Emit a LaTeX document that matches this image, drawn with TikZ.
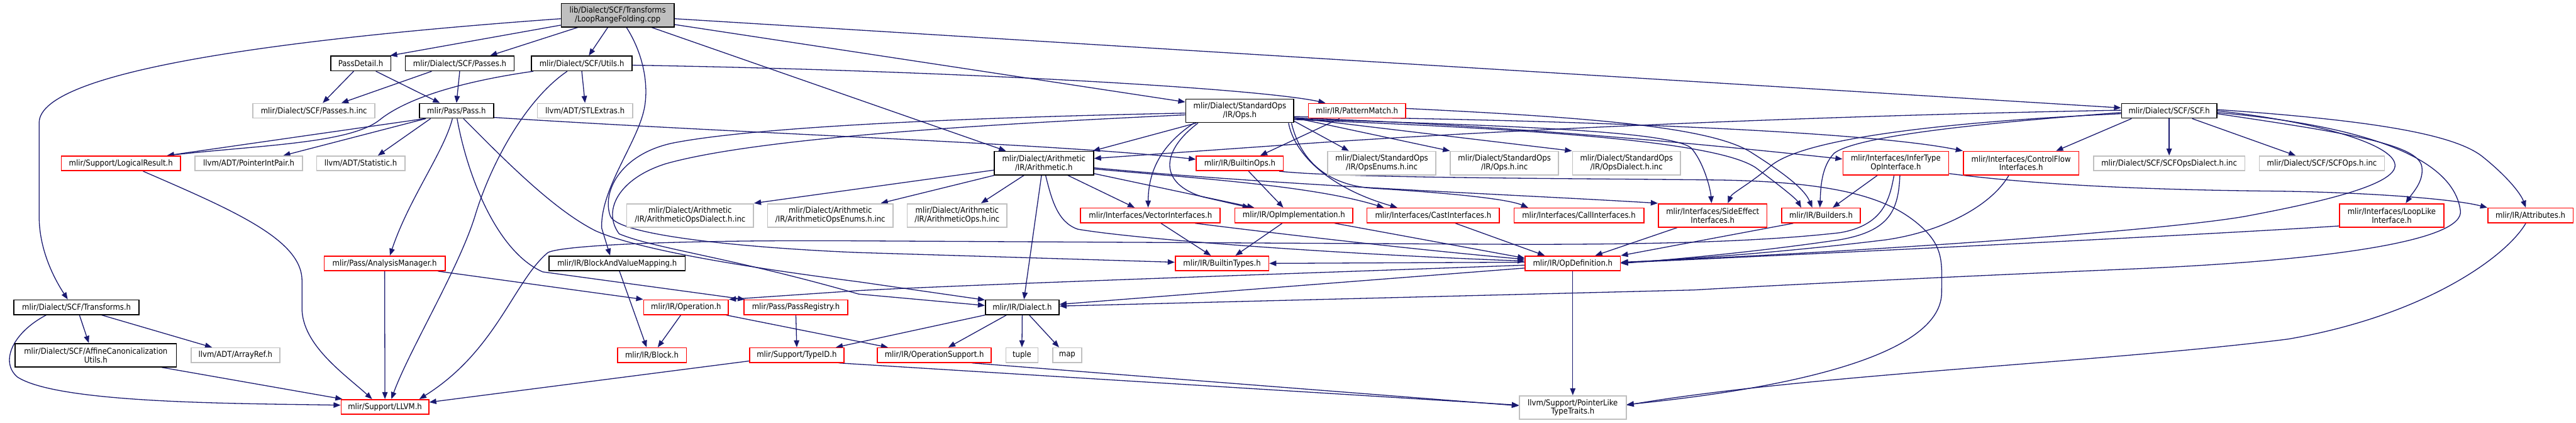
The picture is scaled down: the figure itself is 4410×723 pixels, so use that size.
\documentclass[tikz,border=0pt]{standalone}
\usepackage{fontspec}
\setmainfont{DejaVu Sans Condensed}
\usetikzlibrary{arrows.meta,calc,backgrounds}
\definecolor{edgec}{HTML}{191970}
\definecolor{grayc}{HTML}{C0C0C0}
\definecolor{mainfill}{HTML}{BFBFBF}
\begin{document}
\begin{tikzpicture}[x=0.5pt,y=-0.5pt,
 box/.style={rectangle, inner sep=0pt, font=\fontsize{7}{7.5}\selectfont, align=center, minimum height=12.5pt, line width=0.9pt, fill=white},
 two/.style={minimum height=20pt},
 bw/.style={minimum width=#1*0.5pt},
 nblack/.style={box, draw=black},
 nred/.style={box, draw=red},
 ngray/.style={box, draw=grayc},
 nmain/.style={box, draw=black, fill=mainfill},
 edge/.style={draw=edgec, line width=0.7pt, -{Triangle[length=6pt,width=4.6pt]}}]
\useasboundingbox (0,0) rectangle (4410,723);
% nodes
\node[nmain, two, bw=193] (M) at (1057.5,26) {lib/Dialect/SCF/Transforms\\/LoopRangeFolding.cpp};
\node[nblack, bw=103] (PassDetail) at (617.5,108.5) {PassDetail.h};
\node[nblack, bw=186] (Passes) at (787,108.5) {mlir/Dialect/SCF/Passes.h};
\node[nblack, bw=172] (Utils) at (996,108.5) {mlir/Dialect/SCF/Utils.h};
\node[ngray, bw=209] (PassesInc) at (537.5,189.5) {mlir/Dialect/SCF/Passes.h.inc};
\node[nblack, bw=127] (Pass) at (781.5,189.5) {mlir/Pass/Pass.h};
\node[ngray, bw=163] (STL) at (1001.5,189.5) {llvm/ADT/STLExtras.h};
\node[nblack, two, bw=185] (Ops) at (2122.5,189.5) {mlir/Dialect/StandardOps\\/IR/Ops.h};
\node[nred, bw=166] (PM) at (2323,189.5) {mlir/IR/PatternMatch.h};
\node[nblack, bw=163] (SCF) at (3713.5,189.5) {mlir/Dialect/SCF/SCF.h};
\node[nred, bw=204] (LR) at (207,279.5) {mlir/Support/LogicalResult.h};
\node[ngray, bw=184] (PIP) at (426,279.5) {llvm/ADT/PointerIntPair.h};
\node[ngray, bw=151] (Stat) at (617.5,279.5) {llvm/ADT/Statistic.h};
\node[nblack, two, bw=170] (Arith) at (1787,279) {mlir/Dialect/Arithmetic\\/IR/Arithmetic.h};
\node[nred, bw=149] (BOps) at (2122.5,279.5) {mlir/IR/BuiltinOps.h};
\node[ngray, two, bw=185] (OEnum) at (2365.5,279) {mlir/Dialect/StandardOps\\/IR/OpsEnums.h.inc};
\node[ngray, two, bw=185] (OInc) at (2575.5,279) {mlir/Dialect/StandardOps\\/IR/Ops.h.inc};
\node[ngray, two, bw=185] (ODial) at (2784.5,279) {mlir/Dialect/StandardOps\\/IR/OpsDialect.h.inc};
\node[nred, two, bw=181] (Infer) at (3245.5,279) {mlir/Interfaces/InferType\\OpInterface.h};
\node[nred, two, bw=198] (CF) at (3460,279) {mlir/Interfaces/ControlFlow\\Interfaces.h};
\node[ngray, bw=259] (SCFD) at (3713.5,279.5) {mlir/Dialect/SCF/SCFOpsDialect.h.inc};
\node[ngray, bw=214] (SCFO) at (3975,279.5) {mlir/Dialect/SCF/SCFOps.h.inc};
\node[ngray, two, bw=217] (AD) at (1181.5,368.5) {mlir/Dialect/Arithmetic\\/IR/ArithmeticOpsDialect.h.inc};
\node[ngray, two, bw=215] (AE) at (1421.5,368.5) {mlir/Dialect/Arithmetic\\/IR/ArithmeticOpsEnums.h.inc};
\node[ngray, two, bw=171] (AO) at (1638.5,368.5) {mlir/Dialect/Arithmetic\\/IR/ArithmeticOps.h.inc};
\node[nred, bw=239] (VI) at (1969.5,368.5) {mlir/Interfaces/VectorInterfaces.h};
\node[nred, bw=202] (OI) at (2215,368.5) {mlir/IR/OpImplementation.h};
\node[nred, bw=227] (Cast) at (2453.5,368.5) {mlir/Interfaces/CastInterfaces.h};
\node[nred, bw=222] (Call) at (2703,368.5) {mlir/Interfaces/CallInterfaces.h};
\node[nred, two, bw=186] (SE) at (2932,368.5) {mlir/Interfaces/SideEffect\\Interfaces.h};
\node[nred, bw=135] (Bld) at (3117.5,368.5) {mlir/IR/Builders.h};
\node[nred, two, bw=179] (LL) at (4094.5,368.5) {mlir/Interfaces/LoopLike\\Interface.h};
\node[nred, bw=146] (Attr) at (4332,368.5) {mlir/IR/Attributes.h};
\node[nred, bw=207] (AM) at (658.5,450.5) {mlir/Pass/AnalysisManager.h};
\node[nblack, bw=233] (BVM) at (1056.5,450.5) {mlir/IR/BlockAndValueMapping.h};
\node[nred, bw=160] (BT) at (2092,450.5) {mlir/IR/BuiltinTypes.h};
\node[nred, bw=163] (OD) at (2692.5,450.5) {mlir/IR/OpDefinition.h};
\node[nblack, bw=214] (Tr) at (131,525.5) {mlir/Dialect/SCF/Transforms.h};
\node[nred, bw=145] (Op) at (1174.5,525.5) {mlir/IR/Operation.h};
\node[nred, bw=177] (PR) at (1362.5,525.5) {mlir/Pass/PassRegistry.h};
\node[nblack, bw=126] (Dia) at (1750,525.5) {mlir/IR/Dialect.h};
\node[nblack, two, bw=276] (ACU) at (164,607.5) {mlir/Dialect/SCF/AffineCanonicalization\\Utils.h};
\node[ngray, bw=152] (AR) at (403,607.5) {llvm/ADT/ArrayRef.h};
\node[nred, bw=118] (Blk) at (1116,607.5) {mlir/IR/Block.h};
\node[nred, bw=162] (TID) at (1364,607.5) {mlir/Support/TypeID.h};
\node[nred, bw=195] (OS) at (1599.5,607.5) {mlir/IR/OperationSupport.h};
\node[ngray, bw=55] (tup) at (1749.5,607.5) {tuple};
\node[ngray, bw=50] (mapn) at (1827,607.5) {map};
\node[nred, bw=150] (LLVM) at (659,696) {mlir/Support/LLVM.h};
\node[ngray, two, bw=183] (PLTT) at (2692.5,697) {llvm/Support/PointerLike\\TypeTraits.h};
\begin{pgfonlayer}{background}
\fill[white] (0,0) rectangle (4410,723);
% main node
\draw[edge] ($(M.west)+(0,6)$) .. controls (500,65) and (67,120) .. (67,210) -- (67,370) .. controls (67,430) and (95,480) .. ($(Tr.north)+(-15,0)$);
\draw[edge] ($(M.west)+(0,17)$) -- ($(PassDetail.north east)+(-2,0)$);
\draw[edge] ($(M.south west)+(29,0)$) -- ($(Passes.north)+(52,0)$);
\draw[edge] ($(M.south)+(-17,0)$) -- ($(Utils.north)+(12,0)$);
\draw[edge] ($(M.south)+(15,0)$) .. controls (1100,90) and (1110,140) .. (1104,180) .. controls (1095,240) and (1028,320) .. (1030,390) -- ($(BVM.north)+(-12,0)$);
\draw[edge] ($(M.south)+(58,0)$) -- ($(Arith.north)+(-65,0)$);
\draw[edge] ($(M.east)+(0,16)$) -- ($(Ops.west)+(0,-15)$);
\draw[edge] ($(M.east)+(0,6)$) -- ($(SCF.west)+(0,-5)$);
% PassDetail, Passes, Utils
\draw[edge] ($(PassDetail.south)+(-12,0)$) -- ($(PassesInc.north)+(15,0)$);
\draw[edge] ($(PassDetail.south)+(26,0)$) -- ($(Pass.north west)+(36,0)$);
\draw[edge] ($(Passes.south west)+(46,0)$) -- ($(PassesInc.north)+(47,0)$);
\draw[edge] (Passes.south) -- (Pass.north);
\draw[edge] (Utils.south) -- (STL.north);
\draw[edge] ($(Utils.south west)+(4,0)$) .. controls (800,138) and (700,165) .. (650,205) .. controls (600,245) and (450,248) .. ($(LR.north east)+(-24,0)$);
\draw[edge] ($(Utils.south west)+(62,0)$) .. controls (900,170) and (840,280) .. (813,370) .. controls (785,460) and (700,600) .. ($(LLVM.north)+(11,0)$);
\draw[edge] ($(Utils.east)+(0,3)$) .. controls (1600,120) and (2150,150) .. ($(PM.north west)+(30,0)$);
% Pass.h
\draw[edge] ($(Pass.south west)+(10,0)$) -- ($(LR.north east)+(-24,0)$);
\draw[edge] ($(Pass.south west)+(12,0)$) -- ($(PIP.north east)+(-34,0)$);
\draw[edge] ($(Pass.south west)+(20,0)$) -- ($(Stat.north east)+(-47,0)$);
\draw[edge] ($(Pass.south)+(-7,0)$) .. controls (760,260) and (700,340) .. ($(AM.north)+(9,0)$);
\draw[edge] ($(Pass.south)+(1,0)$) .. controls (800,300) and (850,430) .. (929,465) -- ($(PR.north west)+(2,0)$);
\draw[edge] ($(Pass.south)+(12,0)$) .. controls (870,280) and (950,360) .. (1020,395) .. controls (1100,430) and (1300,460) .. (1470,482) -- ($(Dia.north west)+(0,1)$);
\draw[edge] ($(Pass.south east)+(0,-2)$) .. controls (1300,230) and (1800,245) .. ($(BOps.west)+(0,-7)$);
% lower left
\draw[edge] ($(LR.south)+(38,0)$) .. controls (400,360) and (517,410) .. (517,480) -- (517,527) .. controls (517,590) and (590,640) .. ($(LLVM.north)+(-22,0)$);
\draw[edge] (AM.south) -- (LLVM.north);
\draw[edge] ($(AM.south east)+(-13,0)$) -- (Op.north west);
\draw[edge] ($(Tr.south west)+(56,0)$) .. controls (20,570) and (0,620) .. (30,645) .. controls (100,690) and (400,690) .. ($(LLVM.west)+(0,-3)$);
\draw[edge] ($(Tr.south)+(5,0)$) -- ($(ACU.north)+(-12,0)$);
\draw[edge] ($(Tr.south)+(43,0)$) -- ($(AR.north)+(-40,0)$);
\draw[edge] ($(ACU.south east)+(-26,0)$) -- ($(LLVM.north west)+(3,0)$);
\draw[edge] ($(BVM.south)+(4,0)$) -- ($(Blk.north)+(-9,0)$);
\draw[edge] ($(Op.south)+(-9,0)$) -- ($(Blk.north)+(10,0)$);
\draw[edge] ($(Op.south east)+(-5,0)$) -- ($(OS.north west)+(19,0)$);
\draw[edge] (PR.south) -- (TID.north);
\draw[edge] ($(TID.west)+(0,10)$) -- ($(LLVM.east)+(0,-8)$);
\draw[edge] ($(TID.south east)+(-10,0)$) -- ($(PLTT.west)+(0,-4)$);
\draw[edge] ($(OS.south east)+(-34,0)$) -- ($(PLTT.west)+(0,-3)$);
\draw[edge] (Dia.south west) -- ($(TID.north east)+(-15,0)$);
\draw[edge] ($(Dia.south west)+(37,0)$) -- ($(OS.north)+(24,0)$);
\draw[edge] (Dia.south) -- (tup.north);
\draw[edge] ($(Dia.south)+(12,0)$) -- ($(mapn.north)+(-14,0)$);
% Arithmetic.h
\draw[edge] ($(Arith.west)+(0,12)$) -- (AD.north east);
\draw[edge] ($(Arith.south west)+(1,0)$) -- ($(AE.north east)+(-22,0)$);
\draw[edge] ($(Arith.south)+(-34,0)$) -- ($(AO.north)+(41,0)$);
\draw[edge] ($(Arith.south)+(-4,0)$) -- ($(Dia.north)+(3,0)$);
\draw[edge] ($(Arith.south)+(3,0)$) .. controls (1800,340) and (1810,380) .. (1845,392) .. controls (1950,410) and (2300,435) .. ($(OD.west)+(0,-4)$);
\draw[edge] ($(Arith.south)+(41,0)$) -- ($(VI.north)+(-27,0)$);
\draw[edge] ($(Arith.south east)+(0,-3)$) -- ($(OI.north west)+(34,0)$);
\draw[edge] ($(Arith.east)+(0,10)$) .. controls (2050,305) and (2250,318) .. ($(Cast.north west)+(30,0)$);
\draw[edge] ($(Arith.east)+(0,8)$) .. controls (2200,318) and (2600,333) .. (SE.north west);
% BuiltinOps.h
\draw[edge] ($(BOps.south east)+(-8,0)$) .. controls (2300,305) and (2700,305) .. (2950,308) .. controls (3150,312) and (3230,340) .. (3280,380) .. controls (3330,420) and (3324,450) .. (3324,500) .. controls (3324,600) and (3100,660) .. ($(PLTT.east)+(0,-5)$);
\draw[edge] ($(BOps.south)+(15,0)$) -- ($(OI.north)+(-18,0)$);
% StandardOps Ops.h
\draw[edge] ($(Ops.south west)+(19,0)$) -- ($(Arith.north east)+(-2,0)$);
\draw[edge] ($(Ops.south west)+(15,0)$) .. controls (2000,240) and (1966,280) .. ($(VI.north)+(-4,0)$);
\draw[edge] ($(Ops.south west)+(22,0)$) .. controls (1985,260) and (1985,315) .. (2060,337) -- ($(OI.north west)+(26,0)$);
\draw[edge] ($(Ops.south east)+(0,-3)$) -- ($(OEnum.north west)+(37,0)$);
\draw[edge] ($(Ops.east)+(0,12)$) -- (OInc.north west);
\draw[edge] ($(Ops.east)+(0,12)$) -- (ODial.north west);
\draw[edge] ($(Ops.east)+(0,14)$) .. controls (2600,215) and (2860,225) .. (2895,253) .. controls (2915,275) and (2928,320) .. ($(SE.north)+(-2,0)$);
\draw[edge] ($(Ops.east)+(0,10)$) .. controls (2700,205) and (3200,225) .. (CF.north west);
\draw[edge] ($(Ops.east)+(0,12)$) .. controls (2600,215) and (2950,250) .. ($(Infer.west)+(0,-7)$);
\draw[edge] ($(Ops.east)+(0,15)$) .. controls (2600,220) and (2950,240) .. (3010,290) .. controls (3050,320) and (3075,340) .. ($(Bld.north)+(-34,0)$);
\draw[edge] ($(Ops.south east)+(-10,0)$) .. controls (2215,260) and (2270,320) .. ($(Cast.north west)+(53,0)$);
\draw[edge] ($(Ops.south east)+(-5,0)$) .. controls (2230,290) and (2290,318) .. (2350,322) .. controls (2480,330) and (2580,340) .. ($(Call.north west)+(25,0)$);
\draw[edge] ($(Ops.west)+(0,4)$) .. controls (1700,200) and (1300,215) .. (1150,245) .. controls (1060,265) and (1030,330) .. (1045,370) .. controls (1060,405) and (1300,425) .. (1470,432) -- ($(BT.west)+(0,-2)$);
\draw[edge] ($(Ops.west)+(0,7)$) .. controls (1700,212) and (1300,235) .. (1140,280) .. controls (1060,305) and (1030,360) .. (1060,400) .. controls (1120,425) and (1250,440) .. (1470,503) -- ($(Dia.west)+(0,-3)$);
% interfaces to OpDefinition / BuiltinTypes
\draw[edge] ($(VI.south east)+(-44,0)$) .. controls (2150,395) and (2400,425) .. ($(OD.west)+(0,-7)$);
\draw[edge] ($(VI.south)+(18,0)$) -- ($(BT.north)+(-19,0)$);
\draw[edge] ($(OI.south west)+(82,0)$) -- ($(BT.north)+(23,0)$);
\draw[edge] ($(OI.south east)+(-32,0)$) -- ($(OD.west)+(0,-9)$);
\draw[edge] ($(Cast.south)+(38,0)$) -- ($(OD.north)+(-48,0)$);
\draw[edge] ($(SE.south west)+(33,0)$) -- ($(OD.north east)+(-44,0)$);
\draw[edge] ($(Bld.south west)+(21,0)$) -- (OD.north east);
\draw[edge] ($(OD.west)+(0,-2)$) -- (BT.east);
% OpDefinition
\draw[edge] ($(OD.west)+(0,3)$) .. controls (2300,465) and (1700,485) .. (1470,497) -- (Op.north east);
\draw[edge] ($(OD.west)+(0,8)$) -- ($(Dia.east)+(0,-5)$);
\draw[edge] (OD.south) -- (PLTT.north);
% InferType
\draw[edge] ($(Infer.south)+(-3,0)$) .. controls (3235,340) and (3225,385) .. (3150,398) .. controls (3000,415) and (2800,418) .. (2600,418) -- (1470,412) .. controls (1150,410) and (960,420) .. (938,432) .. controls (880,480) and (850,600) .. ($(LLVM.north east)+(-17,0)$);
\draw[edge] ($(Infer.south)+(7,0)$) .. controls (3250,360) and (3235,395) .. (3150,410) .. controls (3000,432) and (2850,445) .. (OD.east);
\draw[edge] ($(Infer.south west)+(60,0)$) -- ($(Bld.north)+(20,0)$);
\draw[edge] ($(Infer.south east)+(0,-3)$) .. controls (3500,318) and (3700,325) .. (3900,327) .. controls (4050,329) and (4200,340) .. (Attr.north west);
\draw[edge] ($(CF.south)+(-21,0)$) .. controls (3410,350) and (3330,395) .. (3230,410) .. controls (3050,432) and (2900,442) .. ($(OD.east)+(0,-1)$);
\draw[edge] ($(LL.west)+(0,18)$) .. controls (3800,400) and (3200,430) .. ($(OD.east)+(0,-1)$);
\draw[edge] ($(Attr.south)+(-8,0)$) .. controls (4290,440) and (4150,540) .. (3917,580) .. controls (3600,620) and (3100,640) .. ($(PLTT.east)+(0,-4)$);
% PatternMatch
\draw[edge] ($(PM.south west)+(54,0)$) -- ($(BOps.north)+(35,0)$);
\draw[edge] ($(PM.east)+(0,-4)$) .. controls (2700,200) and (2930,215) .. (3000,262) .. controls (3060,300) and (3090,325) .. ($(Bld.north)+(-15,0)$);
% SCF.h
\draw[edge] ($(SCF.west)+(0,5)$) .. controls (3300,210) and (3080,240) .. (3030,285) .. controls (2995,315) and (2965,330) .. ($(SE.north)+(26,0)$);
\draw[edge] ($(SCF.west)+(0,3)$) .. controls (3400,210) and (3180,232) .. (3140,262) .. controls (3118,285) and (3117,320) .. ($(Bld.north)+(-2,0)$);
\draw[edge] ($(SCF.west)+(0,-1)$) .. controls (3000,200) and (2450,230) .. (2200,248) -- ($(Arith.east)+(0,-8)$);
\draw[edge] ($(SCF.south west)+(18,0)$) -- ($(CF.north east)+(-40,0)$);
\draw[edge] (SCF.south) -- (SCFD.north);
\draw[edge] ($(SCF.south east)+(-43,0)$) -- ($(SCFO.north west)+(63,0)$);
\draw[edge] ($(SCF.east)+(0,5)$) .. controls (4000,225) and (4140,245) .. (4146,285) .. controls (4150,310) and (4130,330) .. ($(LL.north)+(24,0)$);
\draw[edge] ($(SCF.east)+(0,-2)$) .. controls (4050,205) and (4200,228) .. (4250,268) .. controls (4290,300) and (4315,330) .. ($(Attr.north)+(-8,0)$);
\draw[edge] ($(SCF.east)+(0,3)$) .. controls (4050,215) and (4200,270) .. (4212,360) .. controls (4220,410) and (4000,445) .. (3650,460) .. controls (3300,475) and (3000,490) .. (2900,496) -- ($(Dia.east)+(0,-2)$);
\draw[edge] (SCF.east) .. controls (3980,210) and (4105,250) .. (4100,285) .. controls (4095,320) and (3950,350) .. (3844,370) .. controls (3700,395) and (3200,430) .. ($(OD.east)+(0,-2)$);
\end{pgfonlayer}
\end{tikzpicture}
\end{document}
